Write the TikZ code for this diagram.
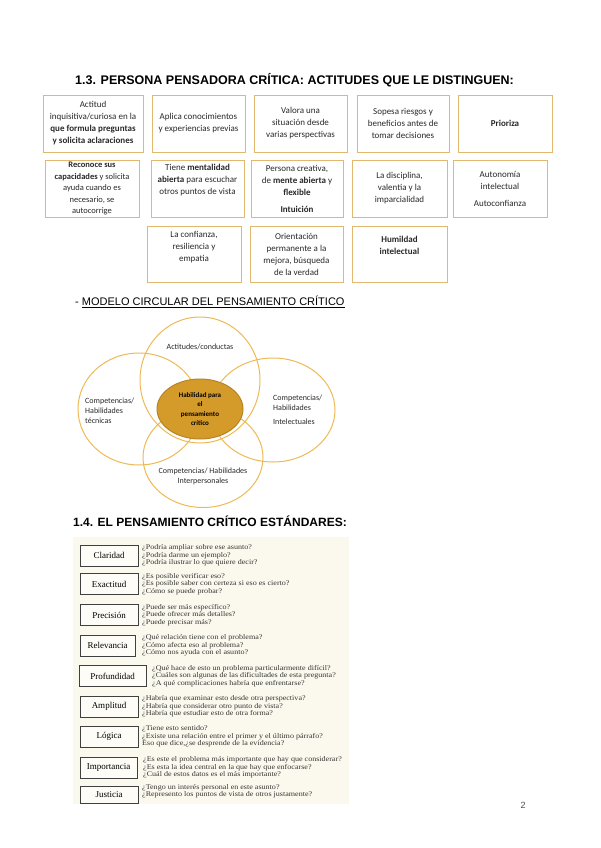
\documentclass[tikz,border=0pt]{standalone}
\usepackage{fontspec}
\setmainfont{Carlito}
\newfontfamily\headfont{Liberation Sans}
\newfontfamily\timesfont{Liberation Serif}
\newfontfamily\questfont[FakeStretch=1.12]{Liberation Serif}
\definecolor{boxgold}{RGB}{226,184,110}
\definecolor{ringgold}{RGB}{238,185,84}
\definecolor{coregold}{RGB}{213,155,42}
\definecolor{cream}{RGB}{251,249,238}
\definecolor{textgray}{RGB}{40,40,40}
\usetikzlibrary{shapes.geometric}
\tikzset{
	attbox/.style={rectangle, draw=boxgold, line width=0.9pt, align=center, minimum height=57pt, inner sep=2pt, font=\fontsize{9}{12}\selectfont, text=textgray},
	ring/.style={ellipse, draw=ringgold, line width=1pt, inner sep=0pt},
	core/.style={ellipse, draw=coregold!85!black, fill=coregold, line width=1pt, minimum width=86pt, minimum height=60pt, inner sep=0pt, align=center, font=\fontsize{7}{9.5}\selectfont\bfseries},
	ringtext/.style={align=left, inner sep=0pt, font=\fontsize{8}{10}\selectfont, text=textgray},
	stdbox/.style={rectangle, draw=black!75, fill=white!50!cream, line width=0.9pt, minimum width=58pt, minimum height=21pt, inner sep=1pt, font=\timesfont\fontsize{9}{10}\selectfont},
	question/.style={anchor=west, align=left, inner sep=0pt, font=\questfont\fontsize{7.2}{7.3}\selectfont, text=black!80},
	heading/.style={anchor=west, inner sep=0pt, font=\headfont\bfseries\fontsize{12.5}{14}\selectfont},
}

\begin{document}
\begin{tikzpicture}[x=1pt, y=-1pt]
	\useasboundingbox (0,0) rectangle (600,848);

	% actitudes
	\node[heading] (titulo) at (75,80) {1.3. PERSONA PENSADORA CRÍTICA: ACTITUDES QUE LE DISTINGUEN:};
	\node[attbox, minimum width=100pt] (inquisitiva) at (93,123.5) {Actitud\\inquisitiva/curiosa en la\\\textbf{que formula preguntas}\\\textbf{y solicita aclaraciones}};
	\node[attbox, minimum width=93pt] (aplica) at (198.5,123.5) {Aplica conocimientos\\y experiencias previas};
	\node[attbox, minimum width=93pt] (valora) at (300.5,123.5) {Valora una\\situación desde\\varias perspectivas};
	\node[attbox, minimum width=92pt] (sopesa) at (403,123.5) {Sopesa riesgos y\\beneficios antes de\\tomar decisiones};
	\node[attbox, minimum width=94pt] (prioriza) at (505,123.5) {\textbf{Prioriza}};
	\node[attbox, minimum width=94pt, font=\fontsize{8.5}{11.5}\selectfont] (reconoce) at (92,188.5) {\textbf{Reconoce sus}\\\textbf{capacidades} y solicita\\ayuda cuando es\\necesario, se\\autocorrige};
	\node[attbox, minimum width=93pt] (mentalidad) at (197.5,188.5) {Tiene \textbf{mentalidad}\\\textbf{abierta} para escuchar\\otros puntos de vista\\[6pt]};
	\node[attbox, minimum width=92pt] (creativa) at (297,188.5) {Persona creativa,\\de \textbf{mente abierta} y\\\textbf{flexible}\\[5pt]\textbf{Intuición}};
	\node[attbox, minimum width=95pt] (disciplina) at (399.5,188.5) {La disciplina,\\valentia y la\\imparcialidad};
	\node[attbox, minimum width=94pt] (autonomia) at (500,188.5) {Autonomía\\intelectual\\[5pt]Autoconfianza};
	\node[attbox, minimum width=94pt, minimum height=56pt] (confianza) at (194,254) {La confianza,\\resiliencia y\\empatia\\[4pt]};
	\node[attbox, minimum width=93pt, minimum height=56pt] (orientacion) at (296.5,254) {Orientación\\permanente a la\\mejora, búsqueda\\de la verdad};
	\node[attbox, minimum width=95pt, minimum height=56pt] (humildad) at (399.5,254) {\textbf{Humildad}\\\textbf{intelectual}\\[5pt]};

	% modelo circular
	\node[anchor=west, inner sep=0pt, font=\headfont\fontsize{11}{13}\selectfont] (modelo) at (75,302) {- \underline{MODELO CIRCULAR DEL PENSAMIENTO CRÍTICO}};
	\node[ring, minimum width=120pt, minimum height=126pt] (actitudes) at (200,380) {};
	\node[ring, minimum width=122pt, minimum height=112pt] (tecnicas) at (139,409) {};
	\node[ring, minimum width=124pt, minimum height=104pt] (intelectuales) at (273,410) {};
	\node[ring, minimum width=120pt, minimum height=100pt] (interpersonales) at (203,457.5) {};
	\node[core] (habilidad) at (200,409) {Habilidad para\\el\\pensamiento\\crítico};
	\node[ringtext] (actitudestxt) at (200,347) {Actitudes/conductas};
	\node[ringtext, anchor=west] (tecnicastxt) at (85,411) {Competencias/\\Habilidades\\técnicas};
	\node[ringtext, anchor=west] (intelectualestxt) at (273,410) {Competencias/\\Habilidades\\[4pt]Intelectuales};
	\node[ringtext, align=center] (interpersonalestxt) at (203,476) {Competencias/ Habilidades\\Interpersonales};

	% estandares
	\node[heading, font=\headfont\bfseries\fontsize{12}{14}\selectfont] (estandares) at (73,521) {1.4. EL PENSAMIENTO CRÍTICO ESTÁNDARES:};
	\fill[cream] (73,537) rectangle (349,804);
	\node[stdbox] (claridad) at (109,555.5) {Claridad};
	\node[question] (claridadq) at (142,555.5) {¿Podría ampliar sobre ese asunto?\\¿Podría darme un ejemplo?\\¿Podría ilustrar lo que quiere decir?};
	\node[stdbox] (exactitud) at (109,584) {Exactitud};
	\node[question] (exactitudq) at (142,584) {¿Es posible verificar eso?\\¿Es posible saber con certeza si eso es cierto?\\¿Cómo se puede probar?};
	\node[stdbox] (precision) at (109,615) {Precisión};
	\node[question] (precisionq) at (142,615) {¿Puede ser más específico?\\¿Puede ofrecer más detalles?\\¿Puede precisar más?};
	\node[stdbox, minimum width=55pt] (relevancia) at (107.5,645.5) {Relevancia};
	\node[question] (relevanciaq) at (142,645.5) {¿Qué relación tiene con el problema?\\¿Cómo afecta eso al problema?\\¿Cómo nos ayuda con el asunto?};
	\node[stdbox, minimum width=67pt] (profundidad) at (112.5,676) {Profundidad};
	\node[question] (profundidadq) at (152,676) {¿Qué hace de esto un problema particularmente difícil?\\¿Cuáles son algunas de las dificultades de esta pregunta?\\¿A qué complicaciones habría que enfrentarse?};
	\node[stdbox] (amplitud) at (109,706.5) {Amplitud};
	\node[question] (amplitudq) at (142,706.5) {¿Habría que examinar esto desde otra perspectiva?\\¿Habría que considerar otro punto de vista?\\¿Habría que estudiar esto de otra forma?};
	\node[stdbox] (logica) at (109,736.5) {Lógica};
	\node[question] (logicaq) at (142,736.5) {¿Tiene esto sentido?\\¿Existe una relación entre el primer y el último párrafo?\\Eso que dice,¿se desprende de la evidencia?};
	\node[stdbox, minimum width=57pt] (importancia) at (108.5,767.5) {Importancia};
	\node[question] (importanciaq) at (143,767.5) {¿Es este el problema más importante que hay que considerar?\\¿Es esta la idea central en la que hay que enfocarse?\\¿Cuál de estos datos es el más importante?};
	\node[stdbox, minimum height=17pt] (justicia) at (109,794.5) {Justicia};
	\node[question] (justiciaq) at (142,791.5) {¿Tengo un interés personal en este asunto?\\¿Represento los puntos de vista de otros justamente?};

	\node[inner sep=0pt, font=\headfont\fontsize{9}{10}\selectfont, text=black!70] (pagina) at (523,805) {2};
\end{tikzpicture}
\end{document}
